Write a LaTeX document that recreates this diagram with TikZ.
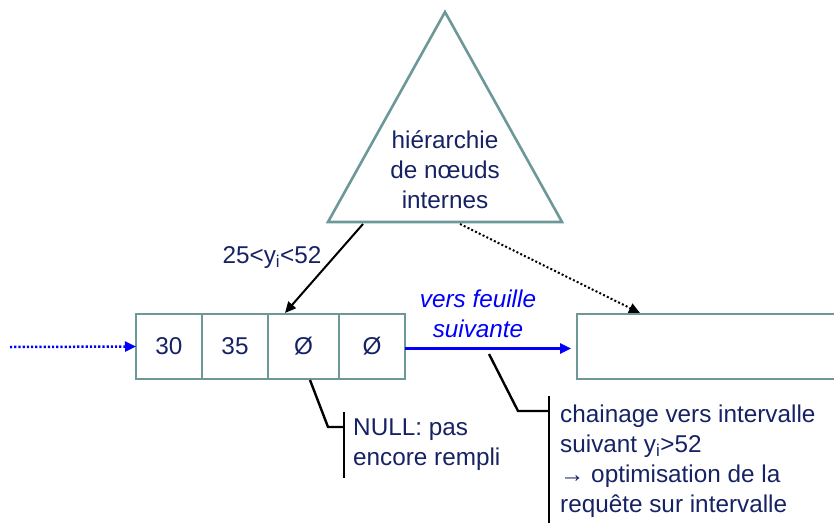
\documentclass[tikz,border=0pt]{standalone}
\usepackage{fontspec}
\setmainfont{Liberation Sans}
\usetikzlibrary{arrows.meta,calc}
\definecolor{frame}{RGB}{108,152,152}
\definecolor{ink}{RGB}{22,34,100}
\definecolor{linkblue}{RGB}{0,0,250}
\begin{document}
\begin{tikzpicture}[x=1pt,y=-1pt,
  font=\fontsize{24.3}{30}\selectfont, text=ink,
  cell/.style={draw=frame, line width=2.6pt, minimum height=65pt,
    inner sep=0pt, outer sep=0pt, anchor=north west},
  tip/.style={-{Triangle[length=11pt,width=10pt]}},
  conn/.style={line width=2pt, black},
  callout/.style={line width=2.4pt, black},
  label/.style={inner sep=0pt, align=left}]
\useasboundingbox (0,0) rectangle (834,522);
\clip (0,0) rectangle (834,522);

% tree of internal nodes
\coordinate (apex) at (445,12);
\coordinate (baseL) at (328,222);
\coordinate (baseR) at (562,222);
\draw[frame, line width=2.6pt, line join=miter] (apex) -- (baseL) -- (baseR) -- cycle;
\node[align=center, inner sep=0pt] (tree) at (445,170) {hiérarchie\\de nœuds\\internes};

% current leaf
\node[cell, minimum width=66pt] (c1) at (136,314) {30};
\node[cell, minimum width=66pt] (c2) at (c1.north east) {35};
\node[cell, minimum width=71pt] (c3) at (c2.north east) {Ø};
\node[cell, minimum width=66pt] (c4) at (c3.north east) {Ø};

% next leaf (runs past the right edge)
\node[cell, minimum width=300pt] (next) at (577,314) {};

% links between leaves
\coordinate (prev) at (10,347);
\draw[linkblue, line width=2.5pt, dash pattern=on 2.2pt off 2pt, tip] (prev) -- (c1.west);
\draw[linkblue, line width=2.5pt, tip] ($(c4.east)+(0,2)$) -- ($(next.west)+(-6,2)$);
\node[linkblue, align=center, inner sep=0pt, font=\fontsize{24.3}{30}\selectfont\itshape] (vers) at (478,314) {vers feuille\\suivante};

% descent from the tree
\coordinate (fromL) at (363,224);
\coordinate (fromR) at (460,224);
\draw[conn, tip] (fromL) -- ($(c3.north west)+(17,-1)$);
\draw[conn, dash pattern=on 2pt off 2.2pt, tip] (fromR) -- ($(next.north west)+(63,-1)$);
\node[inner sep=0pt] (range) at (272,258) {25<y\textsubscript{i}<52};

% callout: empty slot
\coordinate (n0) at (310,380);
\coordinate (n1) at (328,427);
\coordinate (n2) at (344,427);
\draw[callout] (n0) -- (n1) -- (n2);
\draw[callout] (344,412) -- (344,478);
\node[label, anchor=west] (nullnote) at (353,445) {NULL: pas\\encore rempli};

% callout: chaining
\coordinate (k0) at (489,354);
\coordinate (k1) at (518,411);
\coordinate (k2) at (549,411);
\draw[callout] (k0) -- (k1) -- (k2);
\draw[callout] (549,396) -- (549,530);
\node[label, anchor=west] (chainnote) at (560,461) {chainage vers intervalle\\suivant y\textsubscript{i}>52\\→ optimisation de la\\requête sur intervalle};
\end{tikzpicture}
\end{document}
